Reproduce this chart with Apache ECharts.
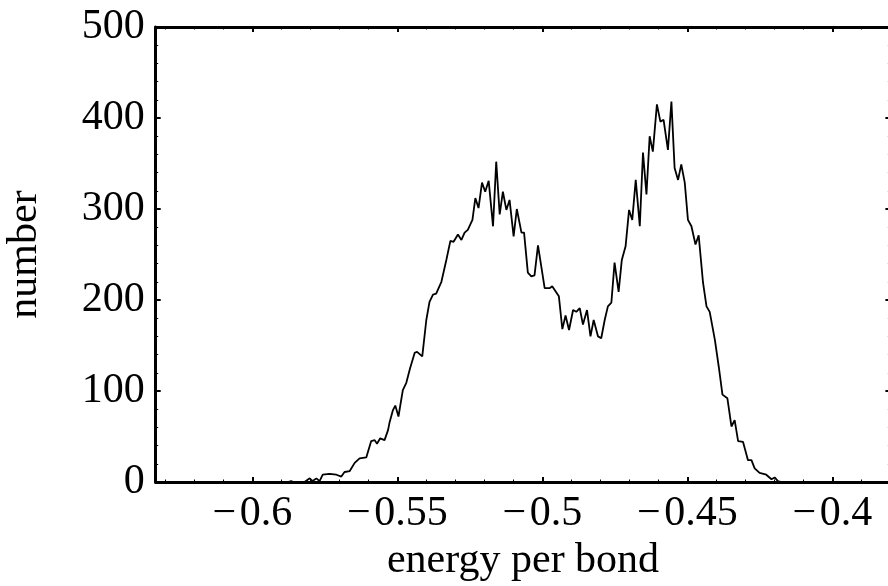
<!DOCTYPE html>
<html>
<head>
<meta charset="utf-8">
<script src="https://cdn.jsdelivr.net/npm/echarts@6/dist/echarts.min.js"></script>
<style>html,body{margin:0;padding:0;background:#fff}#c{width:888px;height:586px}</style>
</head>
<body>
<div id="c"></div>
<script>
const energy = [-0.5900, -0.5878, -0.5866, -0.5858, -0.5820, -0.5802, -0.5792, -0.5779, -0.5768, -0.5757,
  -0.5734, -0.5710, -0.5693, -0.5682, -0.5664, -0.5647, -0.5630, -0.5607, -0.5590, -0.5578,
  -0.5570, -0.5559, -0.5544, -0.5532, -0.5527, -0.5515, -0.5507, -0.5496, -0.5481, -0.5469,
  -0.5456, -0.5440, -0.5432, -0.5414, -0.5400, -0.5389, -0.5377, -0.5366, -0.5348, -0.5331,
  -0.5317, -0.5306, -0.5291, -0.5279, -0.5268, -0.5257, -0.5241, -0.5231, -0.5220, -0.5208,
  -0.5197, -0.5185, -0.5170, -0.5159, -0.5147, -0.5136, -0.5124, -0.5113, -0.5099, -0.5088,
  -0.5072, -0.5063, -0.5050, -0.5038, -0.5027, -0.5015, -0.4992, -0.4975, -0.4966, -0.4943,
  -0.4931, -0.4920, -0.4908, -0.4894, -0.4883, -0.4871, -0.4860, -0.4846, -0.4834, -0.4823,
  -0.4808, -0.4797, -0.4785, -0.4774, -0.4762, -0.4751, -0.4737, -0.4726, -0.4713, -0.4701,
  -0.4690, -0.4678, -0.4664, -0.4653, -0.4641, -0.4630, -0.4619, -0.4605, -0.4593, -0.4582,
  -0.4567, -0.4555, -0.4544, -0.4532, -0.4521, -0.4509, -0.4498, -0.4486, -0.4472, -0.4461,
  -0.4446, -0.4434, -0.4423, -0.4412, -0.4405, -0.4391, -0.4379, -0.4362, -0.4348, -0.4337,
  -0.4325, -0.4308, -0.4291, -0.4279, -0.4268, -0.4251, -0.4228, -0.4210, -0.4199, -0.4188,
  -0.4175, -0.4150];
const counts = [0, 0, 1, 0, 0, 4, 1, 4, 1, 8,
  9, 8, 6, 11, 12, 21, 26, 27, 45, 46,
  42, 48, 46, 57, 65, 79, 84, 72, 101, 109,
  125, 142, 143, 138, 178, 198, 206, 207, 220, 244,
  265, 264, 272, 266, 274, 277, 288, 312, 301, 329,
  319, 331, 281, 352, 294, 319, 299, 310, 270, 300,
  274, 274, 230, 226, 227, 260, 213, 213, 215, 204,
  168, 183, 167, 189, 187, 191, 173, 189, 160, 178,
  160, 158, 178, 193, 197, 241, 209, 244, 259, 299,
  288, 332, 281, 362, 316, 380, 363, 415, 396, 398,
  365, 418, 345, 332, 349, 329, 288, 281, 261, 271,
  219, 193, 187, 168, 156, 125, 96, 92, 61, 68,
  45, 44, 24, 24, 15, 10, 8, 3, 5, 1,
  0, 0];
const xMajorTicks = [-0.6, -0.55, -0.5, -0.45, -0.4];
const xTickLabels = ['\u2212\u200A0.6', '\u2212\u200A0.55', '\u2212\u200A0.5', '\u2212\u200A0.45', '\u2212\u200A0.4'];
const xMinorTicks = [-0.63, -0.62, -0.61, -0.60, -0.59, -0.58, -0.57, -0.56, -0.55, -0.54, -0.53,
  -0.52, -0.51, -0.50, -0.49, -0.48, -0.47, -0.46, -0.45, -0.44, -0.43, -0.42, -0.41, -0.40, -0.39];
const yTickLabels = ['0', '100', '200', '300', '400', '500'];

const FONT = 'Liberation Serif';
const FS = 42;
const X_MIN = -0.6333, X_MAX = -0.38;

function xLabel(v) {
  for (let i = 0; i < xMajorTicks.length; i++) {
    if (Math.abs(xMajorTicks[i] - v) < 1e-9) return xTickLabels[i];
  }
  return '';
}

function xAxisDef(pos, major, showLine, showLabel, name) {
  return {
    type: 'value', position: pos, min: X_MIN, max: X_MAX,
    name: name || '', nameLocation: 'middle', nameGap: 50,
    nameTextStyle: { fontFamily: FONT, fontSize: FS, color: '#000' },
    axisLine: { show: showLine, onZero: false, lineStyle: { color: '#000', width: 3 } },
    axisTick: { show: true, inside: true, length: major ? 5 : 2.5,
      customValues: major ? xMajorTicks : xMinorTicks,
      lineStyle: { color: '#000', width: major ? 2 : 1 } },
    axisLabel: { show: showLabel, customValues: xMajorTicks, formatter: xLabel,
      fontFamily: FONT, fontSize: FS, color: '#000', margin: 11 },
    splitLine: { show: false }
  };
}

function yAxisDef(pos, showLabel, name) {
  return {
    type: 'value', position: pos, min: 0, max: 500, interval: 100,
    name: name || '', nameLocation: 'middle', nameGap: 110,
    nameTextStyle: { fontFamily: FONT, fontSize: FS, color: '#000' },
    axisLine: { show: true, onZero: false, lineStyle: { color: '#000', width: 3 } },
    axisTick: { show: true, inside: true, length: 5, lineStyle: { color: '#000', width: 2 } },
    minorTick: { show: true, splitNumber: 5, length: 2.5, lineStyle: { color: '#000', width: 1 } },
    axisLabel: { show: showLabel, fontFamily: FONT, fontSize: FS, color: '#000', margin: 11,
      formatter: function (v) { return yTickLabels[Math.round(v / 100)]; } },
    splitLine: { show: false }, minorSplitLine: { show: false }
  };
}

const chart = echarts.init(document.getElementById('c'), null, { renderer: 'canvas' });
chart.setOption({
  animation: false,
  backgroundColor: '#fff',
  grid: { left: 155.7, top: 27, width: 734.7, height: 455, containLabel: false, outerBoundsMode: 'none' },
  xAxis: [
    xAxisDef('bottom', true, true, true, 'energy per bond'),
    xAxisDef('bottom', false, false, false),
    xAxisDef('top', true, true, false),
    xAxisDef('top', false, false, false)
  ],
  yAxis: [
    yAxisDef('left', true, 'number'),
    yAxisDef('right', false)
  ],
  series: [{
    type: 'line',
    xAxisIndex: 0, yAxisIndex: 0,
    data: energy.map((x, i) => [x, counts[i]]),
    showSymbol: false, symbol: 'none',
    lineStyle: { color: '#000', width: 1.8 },
    clip: true
  }]
});
</script>
</body>
</html>
